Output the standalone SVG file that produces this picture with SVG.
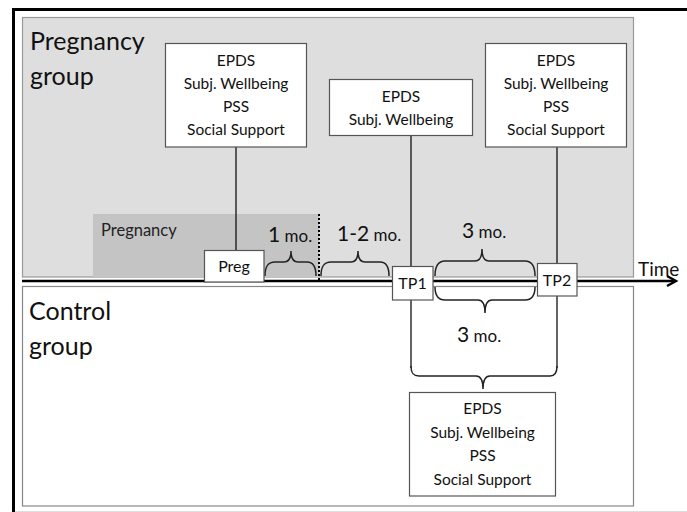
<svg xmlns="http://www.w3.org/2000/svg" width="687" height="512" viewBox="0 0 687 512">
<style>
  text { font-family: Lato, "Liberation Sans", Arial, sans-serif; fill: #111; }
  .box { fill: #fff; stroke: #555; stroke-width: 1.2; }
  .t { font-size: 15.5px; text-anchor: middle; }
  .big { font-size: 25px; }
  .ln { stroke: #111; stroke-width: 1.3; fill: none; }
  .br { stroke: #222; stroke-width: 1.5; fill: none; }
  .num { font-size: 21px; }
  .mo { font-size: 17px; }
</style>
<rect x="0" y="0" width="687" height="512" fill="#fff"/>
<rect x="13.5" y="9.5" width="700" height="520" fill="#fff" stroke="#000" stroke-width="3"/>
<line x1="15" y1="511.5" x2="687" y2="511.5" stroke="#ddd" stroke-width="1"/>

<g id="pregnancy-group">
  <rect x="22.5" y="17.5" width="611" height="259.5" fill="#dedede" stroke="#999" stroke-width="1.2"/>
  <text class="big" x="30" y="50">Pregnancy</text>
  <text class="big" x="30" y="85">group</text>
</g>
<g id="control-group">
  <rect x="22.5" y="286.5" width="611" height="219.5" fill="#fff" stroke="#888" stroke-width="1.2"/>
  <text class="big" x="29" y="320">Control</text>
  <text class="big" x="29" y="355">group</text>
</g>
<g id="pregnancy-period">
  <rect x="93" y="214" width="226" height="63" fill="#c4c4c4"/>
  <text x="101" y="236" style="font-size:16.5px;fill:#222">Pregnancy</text>
</g>

<g id="connectors">
  <line class="ln" x1="236" y1="147" x2="236" y2="250"/>
  <line class="ln" x1="411" y1="136" x2="411" y2="368"/>
  <line class="ln" x1="557" y1="147" x2="557" y2="368"/>
  <line x1="22" y1="281" x2="675" y2="281" stroke="#000" stroke-width="2.6"/>
  <polyline points="667,276 676,281 667,286" fill="none" stroke="#000" stroke-width="2.4"/>
  <line x1="319" y1="214" x2="319" y2="282" stroke="#000" stroke-width="2" stroke-dasharray="2,2"/>
  <path class="br" d="M265,276 C265,266 268,262 275,262 L284,262 C289,262 291,258 291,251 C291,258 293,262 298,262 L307,262 C313,262 316,266 316,276"/>
  <path class="br" d="M321,276 C321,266 324,262 331,262 L351,262 C356,262 358,258 358,251 C358,258 360,262 365,262 L380,262 C386,262 389,266 389,276"/>
  <path class="br" d="M435,276 C435,266 438,261 445,261 L475,261 C480,261 482,257 482,249 C482,257 484,261 489,261 L525,261 C532,261 535,266 535,276"/>
  <path class="br" d="M435,287 C435,296 438,300 445,300 L478,300 C483,300 485,304 485,313 C485,304 487,300 492,300 L525,300 C532,300 535,296 535,287"/>
  <path class="br" d="M411,366 C411,373 413,376 419,376 L476,376 C481,376 483,380 483,389 C483,380 485,376 490,376 L550,376 C555,376 557,373 557,366"/>
  <text x="268" y="242"><tspan class="num">1</tspan><tspan class="mo"> mo.</tspan></text>
  <text x="337" y="241"><tspan class="num">1-2</tspan><tspan class="mo"> mo.</tspan></text>
  <text x="462" y="238"><tspan class="num">3</tspan><tspan class="mo"> mo.</tspan></text>
  <text x="457" y="342"><tspan class="num">3</tspan><tspan class="mo"> mo.</tspan></text>
  <text x="638" y="276" style="font-size:19px">Time</text>
</g>

<g id="box-preg-measures">
  <rect class="box" x="165.5" y="43.5" width="141" height="103.5"/>
  <text class="t" x="236" y="66">EPDS</text>
  <text class="t" x="236" y="89">Subj. Wellbeing</text>
  <text class="t" x="236" y="112">PSS</text>
  <text class="t" x="236" y="135">Social Support</text>
</g>
<g id="box-tp1-measures">
  <rect class="box" x="329.5" y="79.5" width="143" height="56"/>
  <text class="t" x="401" y="102">EPDS</text>
  <text class="t" x="401" y="125">Subj. Wellbeing</text>
</g>
<g id="box-tp2-measures">
  <rect class="box" x="485.5" y="43.5" width="141" height="103.5"/>
  <text class="t" x="556" y="66">EPDS</text>
  <text class="t" x="556" y="89">Subj. Wellbeing</text>
  <text class="t" x="556" y="112">PSS</text>
  <text class="t" x="556" y="135">Social Support</text>
</g>
<g id="box-control-measures">
  <rect class="box" x="409.5" y="392.5" width="146" height="103.5"/>
  <text class="t" x="482.5" y="414">EPDS</text>
  <text class="t" x="482.5" y="437.5">Subj. Wellbeing</text>
  <text class="t" x="482.5" y="461">PSS</text>
  <text class="t" x="482.5" y="484.5">Social Support</text>
</g>
<g id="preg">
  <rect class="box" x="204.5" y="250.5" width="59.5" height="31.5"/>
  <text class="t" x="234" y="272" style="font-size:16px">Preg</text>
</g>
<g id="tp1">
  <rect class="box" x="392.5" y="266.5" width="40.5" height="33.5"/>
  <text class="t" x="412.5" y="289" style="font-size:16px">TP1</text>
</g>
<g id="tp2">
  <rect class="box" x="537.5" y="263.5" width="39.5" height="32.5"/>
  <text class="t" x="557" y="285.5" style="font-size:16px">TP2</text>
</g>
</svg>
